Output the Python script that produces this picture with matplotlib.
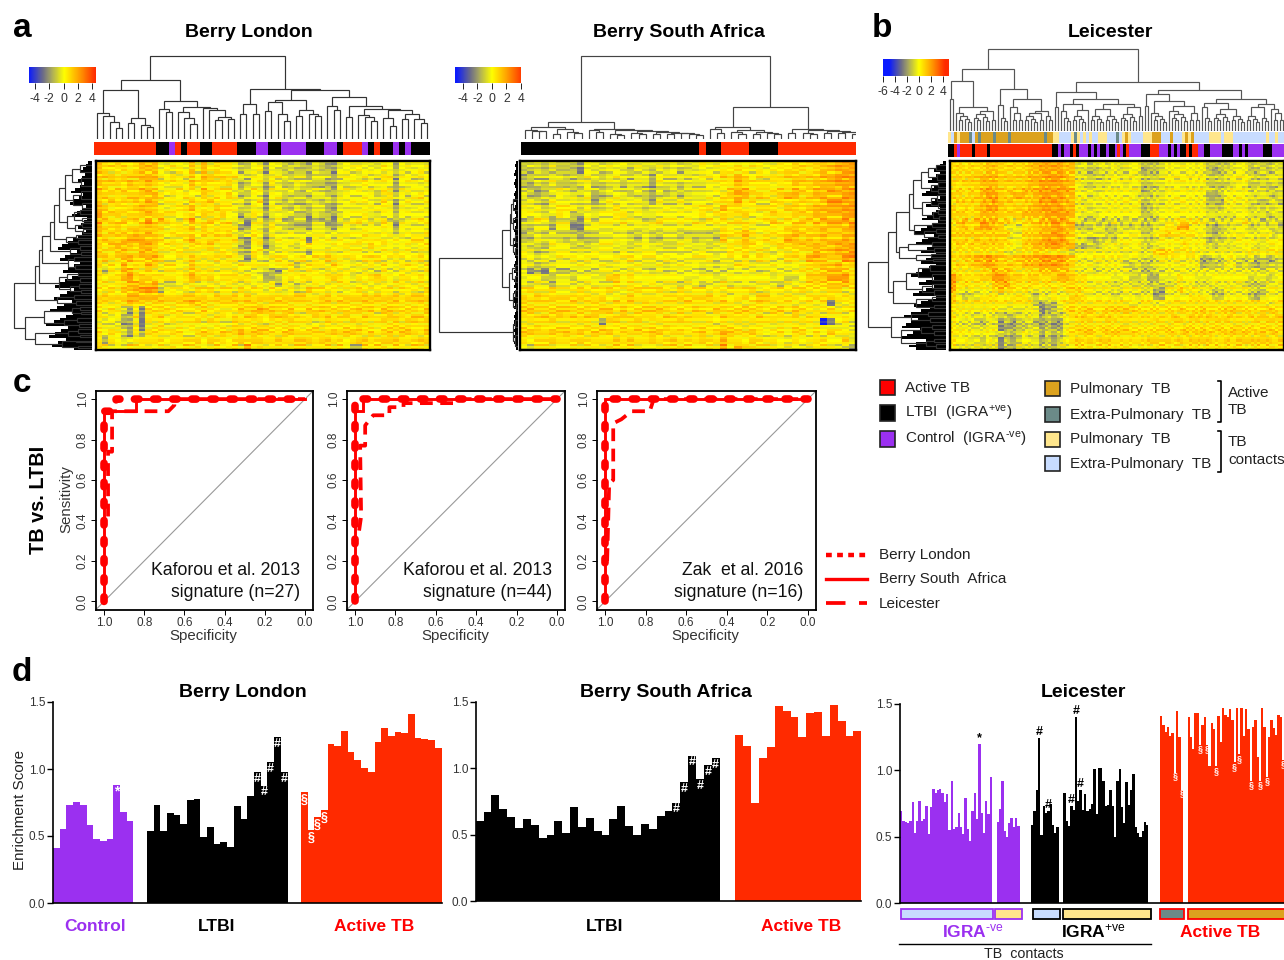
import numpy as np
import matplotlib
matplotlib.use('Agg')
import matplotlib.pyplot as plt
from matplotlib.colors import LinearSegmentedColormap, ListedColormap, Normalize
from matplotlib.patches import Rectangle

plt.rcParams['font.family'] = ['Liberation Sans', 'DejaVu Sans']
plt.rcParams['mathtext.fontset'] = 'custom'
plt.rcParams['mathtext.rm'] = 'Liberation Sans'
plt.rcParams['mathtext.default'] = 'regular'

W, H = 1284, 960
RED = '#ff2a00'
PURPLE = '#9b30f0'
LRED = '#ff0000'
GOLD = '#dca21e'
TEAL = '#6b8a88'
PALE = '#ffe68c'
SKY = '#c8dcff'

#heat levels, one digit per cell
levels = [-4.6, -2.6, -1.7, -1.0, -0.45, 0.0, 0.55, 1.0, 1.55, 2.1]

london_heat = [
"8777767888 5565585857 6653355255 3343243224 5555446525 5555",
"8766767888 5656585867 6653456254 3433343325 5565556535 5565",
"7776777888 5565575876 7664355355 4344244324 5545446625 5455",
"8777687787 6566586766 6752355264 3354333224 4556555525 5545",
"8767777887 5556575866 6653465255 4443443325 5455546525 5555",
"7776777788 6565655766 5753355255 3433344334 5555536635 4565",
"8677678788 5556585776 6654356154 3333343425 5546546525 5555",
"8766767887 5566686667 6654355255 3343344224 4555556525 5455",
"9777677787 7665675766 7552465245 4433243324 5556445535 5555",
"9767767797 8655695676 6743155255 3233143214 5565546425 4565",
"8777677787 7566685766 6662255365 3333244324 5455556525 5555",
"8677778787 6566675767 6753465254 4544455445 5556555535 5556",
"7777888988 6565686676 6663166245 5545165545 5565656555 5665",
"7678787887 6656576675 6652255135 5446655556 6555765555 5566",
"7767877887 6566665566 6563366345 5555255655 5665556565 6565",
"6766886788 6555576566 5654155456 5556565765 5656665555 5565",
"7565867687 5665585655 6656665556 6635666576 5455656556 6656",
"7366897676 5666686665 6665554332 5665665656 6546546556 5656",
"6566896776 6665687675 6666645223 5656655676 5465676546 6565",
"6666788889 4445565565 5655556562 6535565566 6565556566 6566",
"6665789999 3455656665 6656665366 4545766655 5566565656 5656",
"7777788888 7777777767 7776767776 7777667766 7777777776 7777",
"7666787777 7777788776 7777777677 7766767767 7777767776 7677",
"6565326166 7656665756 5567778777 6766767767 6677767776 6767",
"6555326166 7566556656 6566777677 7765676766 7667657766 6777",
"6455225166 6566667576 5576676576 7766656766 6766667776 7767",
"6555326156 7556565656 6577677766 6765675666 7676656777 7667",
"6565326266 6566556766 7678777666 7777666777 7766766767 7767",
"6265445666 6566667576 6567677667 6677767766 5677667776 6677",
"8656576766 6676767667 6775977676 7677677767 6337777677 6766",
]

africa_heat = [
"3443533325 4455545445 4544465565 6566556677 7788999",
"3343433315 4455435435 4534455566 7656566777 6788999",
"2333443335 4345434425 4444455576 8756566777 7788999",
"3243533345 3344344425 4434445566 8766656687 7888999",
"3323454335 3344344324 3434445557 8866667687 7889899",
"4323454445 2345434324 3434445567 9877667887 7888899",
"4443555535 2355554425 4454555577 8665567676 7789999",
"5553566545 3456445345 5455566586 7566675777 7889999",
"5554465335 4556645445 5555565676 6755676677 7888899",
"3365255215 4555654456 5555656566 6655676677 7888899",
"3355255115 5555555455 5555555565 5655565777 7788889",
"2343433323 3444433433 4433333376 6865666787 7787788",
"3343543332 3554533533 3344343375 6865666887 7778888",
"4343555434 4555444544 4455444456 5766557777 8887899",
"5534555555 5554555554 5545455456 6657645666 7888999",
"4534454555 4555565555 5454555445 5656554666 8877799",
"5434455555 5545555445 4555545354 6645555555 7787877",
"5131433444 4555565545 4545544445 4554555566 7788887",
"4553344355 4477565555 5554455445 5555545335 7779996",
"5454355455 5557566565 5545534564 5555553556 7778887",
"6666655666 6566576666 6566666566 5665656666 6666656",
"7676777676 6755676666 6676777665 6757766665 6767666",
"7766766766 7767676766 6667666676 6577666656 6561656",
"7777677767 6776766777 7666766776 6767667676 6566466",
"6767776777 7676767666 7676665676 7667576575 6656655",
"6666766666 6277667676 6676666566 6666666666 6601565",
"7676677667 6766767676 7666676677 6566556576 5655554",
"7777767776 7676676677 6766676697 6676556566 5657564",
"6566766676 6667676676 6766676686 6576565465 5665574",
"6466666666 7677776666 6777666696 9876666565 5766543",
]

leicester_heat = [
"7767778877 7778899998 8453454545 5533345555 5553333455 343344",
"7777778877 7778899998 8443344544 5523345555 5553234455 334344",
"6767788877 7778889998 7443334544 5433345555 5553334555 433444",
"7677788877 7778899998 8543444554 5533445555 5553333455 334343",
"6767789877 7788899999 8544445555 5523345555 5554334555 344334",
"7767789977 8887899998 8554455555 5433445555 5552235555 444434",
"6777788987 7777899998 8544555555 5533445555 5553325555 433343",
"7676789977 7778899998 8554445555 5523445555 5553335545 343444",
"7776788877 7788889999 8544455555 5533455555 5554444455 444344",
"6786898877 5667788998 8433433533 4433355566 6654344456 443343",
"6786899875 5467788998 8333443344 3433456699 5553234455 344443",
"7777777777 4477788998 7544443345 5533567666 6553234555 445534",
"6776777776 5477889998 7443234355 5533455556 5552334455 544555",
"6767777776 5577889998 8323345545 5543455556 5554344455 544556",
"6666666665 4666776666 3555555555 5545787666 6555555555 665666",
"6677889877 7788899998 7545555554 4433455555 5522335533 423233",
"6767889877 7788899998 7555455553 3433455555 5523335534 323334",
"7666677988 7667788888 7555455555 4433445555 5555555555 554555",
"9766677998 7767766788 7665555445 3342244465 5444555555 344345",
"9676665889 7667767667 7665555445 4443434465 5444555554 333555",
"9545555686 6665455656 7765555445 5544225575 6545335555 433555",
"7534466655 6664354655 7765555445 5455225555 6665335555 324555",
"7666666666 6666323356 7666666666 5566556666 6666666666 666566",
"6555555644 4445412246 7677667777 7666666676 6676667776 666766",
"6554445433 3445423335 6777677667 6666666766 7777667766 767677",
"6545335423 2344323225 6677667766 6666766776 7767777666 677777",
"6554445512 2334423225 6777677677 6666677667 7676776776 767767",
"6555545433 2454424235 6677667776 7666666767 6777667777 677676",
"6554435413 2354423235 6767677666 6667767676 7777667677 777767",
"6555555523 3555534355 6777677777 6666777667 7767777776 677777",
]

#fine horizontal streaks seen inside each block, per thin row, and which streak set each column follows
streak_offsets = [-1.3, -0.8, -0.5, -0.25, -0.1, 0.0, 0.1, 0.25, 0.5, 0.8]
streak_a = "463527184635092746153827465019374628153746285917364052847361925046371829467305182946357120"
streak_b = "725146390826471539260748153962047518396241705839162704853917260483951726049381726350482917"
streak_c = "318260574926138504792613850479261385047926813570492681357042968135704296813570429681357042"
london_pick = "012021102012201120210012102201021120012102210120102112"
africa_pick = "02112001210221012002112100121020211201021012210"
leicester_pick = "0120210211020121001220110212002101220112001210220110210201221002101202110201122010210210"

#column annotation runs, (colour code, number of samples)
london_groups = [('r',10),('k',2),('p',1),('r',1),('k',1),('r',2),('k',2),('r',4),('k',3),('p',2),('k',2),('p',4),
                 ('k',3),('p',2),('k',1),('r',3),('p',1),('k',1),('r',1),('k',2),('p',1),('k',1),('p',1),('k',3)]
africa_groups = [('k',25),('r',1),('k',2),('r',4),('k',4),('r',11)]
leicester_groups = [('k',2),('r',1),('p',1),('r',4),('k',1),('r',4),('k',1),('r',21),('k',2),('p',1),('k',1),('p',2),('k',1),
                    ('r',1),('k',1),('p',3),('k',1),('p',1),('k',1),('p',1),('k',2),('p',1),('k',2),('p',1),('r',1),('p',1),
                    ('k',1),('r',1),('p',4),('k',3),('r',3),('p',3),('k',1),('p',1),('k',1),('p',1),('k',2),('r',1),('k',1),
                    ('r',2),('p',2),('k',2),('p',4),('k',4),('p',2),('k',1),('p',1),('k',1),('p',5),('k',3),('p',4)]
leicester_types = [('y',1),('b',1),('g',1),('y',1),('g',3),('t',1),('b',1),('g',1),('t',1),('g',4),('t',1),('g',4),('t',1),
                   ('g',11),('t',1),('g',2),('y',2),('b',4),('y',1),('t',1),('y',1),('b',1),('y',1),('b',1),('y',1),('b',2),
                   ('y',3),('b',3),('t',1),('b',1),('y',1),('g',1),('y',1),('b',4),('y',3),('g',3),('b',3),('g',1),('b',3),
                   ('y',1),('g',1),('y',1),('g',1),('b',5),('y',4),('b',1),('y',3),('b',11),('y',1),('b',2),('y',1),('b',2)]

#dendrograms: (height, left, right), a 0 is the next sample in order, row trees give the row position in %
london_tree = (83,
    (59,
        (49, (26,0,(23,0,(17,0,(11,0,0)))), (21,(16,0,0),(14,0,(12,0,0)))),
        (38, (30,0,(27,0,0)),
             (32, (27,0,(21,0,(15,0,0))), (31,0,(29,0,(22,(19,0,0),(20,0,0))))))),
    (50,
        (35,(25,0,0),(25,0,0)),
        (49,
            (39,(37,(28,0,0),(25,0,(18,0,0))),(29,(23,0,0),(25,0,(23,0,0)))),
            (42,(33,0,(29,0,0)),
                (33,(22,0,0),(30,(24,0,(22,0,(18,0,0))),
                    (29,(21,0,(13,0,0)),(25,(20,0,0),(20,0,(16,0,0))))))))))

africa_tree = (83,
    (17,
        (12,(9,0,(8,0,(8,0,0))),(10,(5,0,0),(7,0,(6,0,0)))),
        (10,(9,0,(7,0,0)),
            (9,(5,0,(4,0,0)),(8,(6,0,(5,0,0)),(7,(5,0,0),(6,(5,0,0),(6,0,(5,0,(4,0,0)))))))) ),
    (32,
        (12,(10,0,(6,0,0)),(9,(7,0,(5,0,0)),(7,(5,0,0),(6,0,(5,0,0))))),
        (10,(6,0,0),(9,(6,0,(5,0,0)),(8,(6,0,0),(7,(6,0,0),(5,0,(5,0,(4,0,0)))))))))

a = (11,0,0)
b = (13,0,(10,0,0))
c = (15,(11,0,0),(12,0,(9,0,0)))
d = (17,(13,0,(11,0,0)),(14,0,(10,0,0)))
leicester_tree = (82,
    (62,
        (50,(32,0,0),(24,(18,0,c),(20,d,a))),
        (42,(26,0,b),(32,(24,0,(18,a,a)),(20,(18,c,a),(15,0,a))))),
    (49,
        (39,(24,0,0),(32,(27,(20,0,b),(21,c,0)),(27,(22,c,c),(24,d,(15,0,0))))),
        (41,
            (37,(25,0,0),(30,(18,0,c),(25,(20,0,d),(18,a,a)))),
            (32,(28,(24,0,b),(22,d,c)),(27,(24,c,b),(22,0,(18,a,a)))))))

london_rows = (78,
    (57,
        (53,
            (50,
                (42,
                    (38,
                        (33,(27,(20,(12,2,6),(11,9,13)),(19,(11,16,20),(10,22,25))),
                            (25,(18,(12,26,28),(10,30,32)),(17,(10,33,35),(9,36,38)))),
                        (26,(16,39,41),(14,42,44))),
                    (22,(12,45,47),(11,48,50))),
                (24,(18,51,53),(17,55,57))),
            (33,(25,(14,59,61),(12,62,64)),(22,(13,65,67),(11,68,70)))),
        (35,(18,71,73),(16,74,76))),
    (67,
        (48,(20,(12,77,79),(11,80,81)),(28,(15,83,85),(13,86,88))),
        (57,(24,(14,89,91),(12,92,93)),(30,(16,95,96),(14,98,99)))))

africa_rows = (79,
    (16,
        (8,(7,(5,20,26),(5,30,36)),(5,(3,39,43),(3,46,50))),
        (9,(6,(3,55,58),(3,61,64)),(5,(3,68,72),(2,75,79)))),
    (5,(3,84,88),(3,92,98)))

leicester_rows = (78,
    (58,
        (50,
            (37,
                (33,(25,(18,(10,2,5),(9,7,10)),(15,(8,11,14),(8,15,17))),
                    (24,(15,(9,18,21),(8,22,25)),(13,(8,26,28),(7,29,31)))),
                (32,(14,33,35),(22,(10,36,38),(8,39,41)))),
            (47,(38,(14,43,45),(12,46,48)),(30,(15,49,51),(13,52,53)))),
        (53,
            (40,(28,(16,55,58),(14,60,63)),(24,(14,65,67),(12,68,71))),
            (30,(14,72,74),(12,76,78)))),
    (55,
        (35,(18,80,82),(16,83,85)),
        (45,(25,(14,87,89),(12,90,92)),(20,(12,94,96),(10,97,99)))))

#how far the black leaf mass reaches from the heatmap, top to bottom
london_mass = [4,6,9,12,7,10,14,8,12,17,21,9,13,18,22,6,10,15,20,5,8,11,14,6,10,14,19,24,30,34,15,21,27,32,12,18,24,29,14,20,
               27,33,37,18,25,32,38,20,28,35,42,19,26,32,38,46,24,31,37,43,26,34,40,18]
africa_mass = [2,3,2,3,4,2,3,4,3,2,3,4,3,4,2,3,4,3,2,3,4,2,3,4,3,2,4,3,4,2,3,4,3,2,3,4,3,4,2,3,
               4,3,4,2,4,3,4,4,3,4,2,3,4,3,4,4,3,4,3,4,3,4,3,2]
leicester_mass = [3,6,9,12,6,10,14,18,8,12,16,20,24,6,11,15,20,6,10,14,19,24,8,13,19,25,32,12,18,24,30,13,19,25,10,15,20,25,10,17,
                  24,30,35,12,20,27,12,20,27,33,10,18,25,32,16,25,35,42,28,35,40,44,26,33,39,44,20,30,37,30]

#ROC curves as (specificity, sensitivity)
roc_titles = [('Kaforou et al. 2013', 'signature (n=27)'),
              ('Kaforou et al. 2013', 'signature (n=44)'),
              ('Zak  et al. 2016', 'signature (n=16)')]
roc_ticks = [1.0, 0.8, 0.6, 0.4, 0.2, 0.0]
roc_london = [
    ([1,1,.97,.97,.94,.94,.94,.85,0], [0,.94,.94,.94,.97,1,1,1,1]),
    ([1,1,.98,.98,0], [0,.97,.97,1,1]),
    ([1,1,.97,.97,0], [0,.97,.97,1,1])]
roc_africa = [
    ([1,1,.84,.84,0], [0,.94,.94,1,1]),
    ([1,1,.96,.96,0], [0,.94,.94,1,1]),
    ([1,1,0], [0,1,1])]
roc_leicester = [
    ([.98,.98,.96,.96,.68,.65,.65,0], [.42,.74,.74,.94,.94,.97,1,1]),
    ([.98,.97,.975,.95,.95,.91,.83,.83,.76,.76,.5,.48,0], [.35,.42,.77,.77,.87,.92,.92,.96,.96,.98,.98,1,1]),
    ([.99,.98,.96,.96,.92,.87,.78,.76,0], [.2,.58,.6,.88,.9,.94,.94,1,1])]

#enrichment scores
london_control = [.41,.55,.73,.755,.735,.585,.48,.46,.475,.88,.68,.615]
london_ltbi = [.54,.735,.535,.675,.655,.59,.765,.775,.495,.57,.44,.455,.42,.725,.63,.795,.975,.875,1.05,1.24,.975]
london_active = [.83,.545,.64,.695,1.185,1.17,1.285,1.13,1.07,1.01,.975,1.205,1.305,1.245,1.275,1.265,1.41,1.235,1.225,1.215,1.155]
africa_ltbi = [.60,.67,.80,.695,.63,.55,.62,.575,.475,.50,.60,.51,.71,.555,.625,.525,.50,.615,.715,.565,.50,.58,.545,.64,.68,.74,.895,1.095,.92,1.025,1.075]
africa_active = [1.25,1.17,.74,1.08,1.16,1.47,1.43,1.385,1.235,1.415,1.425,1.24,1.48,1.355,1.245,1.285]
leic_control1 = [.69,.62,.61,.60,.62,.76,.53,.62,.77,.62,.63,.73,.52,.72,.86,.83,.85,.86,.83,.76,.82,.55,.92,.56,.57,.68,.57,.52,.79,.56,.47,.69,.83,.63,1.20,.68,.53,.77,.67,.95]
leic_control2 = [.61,.71,.92,.54,.50,.60,.64,.57,.64,.58]
leic_ltbi1 = [.59,.69,.85,1.24,.51,.73,.68,.69,.75,.59,.53,.57]
leic_ltbi2 = [.83,.62,.58,.73,.70,1.40,.77,.85,.70,.82,.69,.71,.75,1.01,.67,1.02,1.02,.92,.73,.74,.85,.73,.50,.92,1.01,.72,.60,.91,.74,.85,.97,.57,.53,.50,.54,.61,.59]
leic_active1 = [1.41,1.34,1.29,1.33,1.26,1.28,.98,1.45,1.25,.85]
leic_active2 = [1.40,1.25,1.16,1.43,1.43,1.19,1.34,1.40,1.19,1.03,1.36,1.31,1.03,1.41,1.21,1.47,1.42,1.40,1.46,1.38,1.06,1.47,1.12,1.47,1.26,
                1.46,1.31,.92,1.33,1.38,1.10,.92,1.47,1.33,.95,1.25,1.38,1.32,1.27,1.42,1.40,1.08]

heat_cmap = LinearSegmentedColormap.from_list('heat', [
    (0.0, '#0a1aff'), (2.0/9.6, '#6c6c88'), (3.2/9.6, '#a8a860'), (5.0/9.6, '#ffff00'),
    (7.2/9.6, '#ff9a00'), (9.4/9.6, '#ff2a00'), (1.0, '#ff2a00')])
heat_norm = Normalize(-5, 4.6)
group_colours = {'r': RED, 'k': 'black', 'p': PURPLE, 'y': PALE, 'b': SKY, 'g': GOLD, 't': TEAL}

fig = plt.figure(figsize=(W/100, H/100), dpi=100, facecolor='white')


def add_ax(x0, y0, x1, y1, **kw):
    return fig.add_axes([x0/W, 1-y1/H, (x1-x0)/W, (y1-y0)/H], **kw)


def draw_tree(ax, node, counter, horizontal, colour):
    if not isinstance(node, tuple):
        if counter is None:
            return node, 0
        counter[0] += 1
        return counter[0]-0.5, 0
    p1, h1 = draw_tree(ax, node[1], counter, horizontal, colour)
    p2, h2 = draw_tree(ax, node[2], counter, horizontal, colour)
    xs, ys = [p1, p1, p2, p2], [h1, node[0], node[0], h2]
    if horizontal:
        xs, ys = ys, xs
    ax.plot(xs, ys, color=colour, lw=0.85, solid_capstyle='butt', solid_joinstyle='miter')
    return (p1+p2)/2, node[0]


def expand(runs):
    return [code for code, n in runs for _ in range(n)]


def strip_ax(x0, y0, x1, y1, runs):
    ax = add_ax(x0, y0, x1, y1)
    codes = expand(runs)
    names = list(group_colours)
    ax.imshow([[names.index(k) for k in codes]], aspect='auto', interpolation='nearest',
              cmap=ListedColormap([group_colours[k] for k in names]), vmin=0, vmax=len(names)-1)
    ax.axis('off')


def heat_ax(x0, y0, x1, y1, rows, pick, col_rep):
    ax = add_ax(x0, y0, x1, y1)
    coarse = [row.replace(' ', '') for row in rows]
    streaks = [streak_a, streak_b, streak_c]
    grid = []
    for r in range(len(coarse)*3):
        line = []
        for ci in range(len(coarse[0])*col_rep):
            base = levels[int(coarse[r//3][ci//col_rep])]
            s = streaks[int(pick[ci % len(pick)])]
            val = base + streak_offsets[int(s[r % len(s)])]
            #only cells read as blue go down to blue
            line.append(val if base < -4 else max(val, -2.9))
        grid.append(line)
    ax.imshow(grid, aspect='auto', interpolation='nearest', cmap=heat_cmap, norm=heat_norm)
    ax.set_xticks([])
    ax.set_yticks([])
    for s in ax.spines.values():
        s.set_linewidth(1.7)
    return ax


def key_ax(x0, y0, x1, y1, lo, hi, ticks):
    ax = add_ax(x0, y0, x1, y1)
    ax.imshow([np.linspace(lo, hi, 120)], aspect='auto', extent=(lo, hi, 0, 1), cmap=heat_cmap, norm=heat_norm)
    ax.set_yticks([])
    ax.set_xticks(ticks)
    ax.set_xticklabels([str(t) for t in ticks], fontsize=8.8, color='#333333')
    ax.tick_params(axis='x', length=4.5, width=0.6, pad=2.5)
    for s in ax.spines.values():
        s.set_visible(False)


def cluster_panel(x0, x1, bar_x0, base, n, heat, pick, col_rep, tree, rows, mass, row_base, key, colour='#333333'):
    heat_ax(x0, 161, x1, 350, heat, pick, col_rep)
    top = add_ax(bar_x0, base-90, x1, base)
    draw_tree(top, tree, [0], False, colour)
    top.set_xlim(0, n)
    top.set_ylim(0, 90)
    top.axis('off')
    side = add_ax(row_base-84, 161, row_base, 350)
    ys = np.linspace(0, 100, len(mass)+1)
    side.fill_betweenx(ys, 0, mass+[mass[-1]], step='post', color='black', lw=0)
    draw_tree(side, rows, None, True, '#333333')
    side.set_xlim(84, 0)
    side.set_ylim(100, 0)
    side.axis('off')
    key_ax(*key)


cluster_panel(96, 430, 94, 139, 54, london_heat, london_pick, 1, london_tree, london_rows, london_mass, 92,
              (28.5, 67, 95, 83, -4.9, 4.4, [-4, -2, 0, 2, 4]))
strip_ax(94, 142, 430, 155, london_groups)
cluster_panel(520, 856, 521, 139, 47, africa_heat, africa_pick, 1, africa_tree, africa_rows, africa_mass, 518,
              (455, 67, 521, 83, -5.1, 4.0, [-4, -2, 0, 2, 4]), colour='#444444')
strip_ax(521, 142, 856, 155, africa_groups)
cluster_panel(950, 1284, 948, 131, 112, leicester_heat, leicester_pick, 2, leicester_tree, leicester_rows, leicester_mass, 946,
              (883, 59, 949, 76, -6.0, 5.0, [-6, -4, -2, 0, 2, 4]), colour='#555555')
strip_ax(948, 132, 1284, 143, leicester_types)
strip_ax(948, 144, 1284, 157, leicester_groups)

#panel c
roc_boxes = [(96, 313), (347, 565), (597, 816)]
for i, (rx0, rx1) in enumerate(roc_boxes):
    ax = add_ax(rx0, 391, rx1, 609.5)
    ax.plot([1.04, -0.04], [-0.04, 1.04], color='#999999', lw=0.8)
    ax.plot(*roc_leicester[i], color=LRED, lw=2.7, ls=(0, (3.4, 2.0)), dash_capstyle='butt')
    ax.plot(*roc_africa[i], color=LRED, lw=2.1, solid_joinstyle='miter')
    ax.plot(*roc_london[i], color=LRED, lw=5.5, ls=(0, (0.6, 1.9)), dash_capstyle='round')
    ax.set_xlim(1.04, -0.04)
    ax.set_ylim(-0.04, 1.04)
    ax.set_xticks(roc_ticks)
    ax.set_yticks(roc_ticks)
    ax.set_xticklabels(['%.1f' % t for t in roc_ticks], fontsize=8.5, color='#333333')
    ax.set_yticklabels(['%.1f' % t for t in roc_ticks], fontsize=8.5, rotation=90, va='center', color='#333333')
    ax.tick_params(length=3.6, width=0.7, pad=1.5)
    for s in ax.spines.values():
        s.set_linewidth(1.3)

#panel d
def bar_ax(x0, x1, y_top, y_base, unit, groups, colours, marks):
    ax = add_ax(x0, y_top, x1, y_base)
    for start, vals, col in zip(groups[0], groups[1], colours):
        ax.stairs(vals, start + np.arange(len(vals)+1), fill=True, color=col, lw=0)
    for gi, idx, sym, col, off, size in marks:
        v = groups[1][gi][idx]
        ax.text(groups[0][gi]+idx+0.5, v+off, sym, color=col, ha='center', va='center', fontsize=size, fontweight='bold')
    ax.set_xlim(0, (x1-x0)/unit)
    ax.set_ylim(0, 1.5)
    ax.set_xticks([])
    ax.set_yticks([0, 0.5, 1.0, 1.5])
    ax.set_yticklabels(['0.0', '0.5', '1.0', '1.5'], fontsize=8.5, color='#333333')
    ax.tick_params(length=4, width=1, pad=1.5)
    ax.spines['top'].set_visible(False)
    ax.spines['right'].set_visible(False)
    ax.spines['left'].set_linewidth(1.2)
    ax.spines['bottom'].set_linewidth(1.2)
    ax.patch.set_alpha(0)


W_ = 'white'
bar_ax(53, 442, 702, 903, 6.7, ([0, 14, 37], [london_control, london_ltbi, london_active]), [PURPLE, 'black', RED],
       [(0, 9, '*', W_, -.05, 10)] + [(1, i, '#', W_, -.05, 9) for i in (16, 17, 18, 19, 20)] +
       [(2, i, '§', W_, -.06, 9) for i in (0, 1, 2, 3)])
bar_ax(475.7, 861, 702, 901, 7.87, ([0, 33], [africa_ltbi, africa_active]), ['black', RED],
       [(0, i, '#', W_, -.05, 9) for i in (25, 26, 27, 28, 29, 30)])
bar_ax(900, 1284, 704, 903, 2.3, ([0, 42, 57, 71, 113, 125], [leic_control1, leic_control2, leic_ltbi1, leic_ltbi2, leic_active1, leic_active2]),
       [PURPLE, PURPLE, 'black', 'black', RED, RED],
       [(0, 34, '*', 'black', .04, 9), (2, 3, '#', 'black', .05, 9), (2, 7, '#', 'black', .05, 9),
        (3, 3, '#', 'black', .05, 9), (3, 5, '#', 'black', .05, 9), (3, 7, '#', 'black', .05, 9)] +
       [(4, 6, '§', W_, -.02, 6.5), (4, 9, '§', W_, -.02, 6.5)] +
       [(5, i, '§', W_, -.03, 6.5) for i in (5, 8, 12, 20, 22, 27, 31, 34, 41)])

#everything else sits on a pixel overlay
over = add_ax(0, 0, W, H)
over.set_xlim(0, W)
over.set_ylim(H, 0)
over.axis('off')
over.patch.set_alpha(0)


def put(x, y, s, size=10, weight='normal', colour='black', ha='center', rot=0, va='center'):
    over.text(x, y, s, fontsize=size, fontweight=weight, color=colour, ha=ha, va=va, rotation=rot)


for x, y, s in [(12.5, 37, 'a'), (872, 37, 'b'), (12.5, 392, 'c'), (12, 681, 'd')]:
    put(x, y, s, size=24, weight='bold', ha='left', va='baseline')
for x, y, s in [(249, 37, 'Berry London'), (679, 37, 'Berry South Africa'), (1110, 37, 'Leicester'),
                (243, 697, 'Berry London'), (666, 697, 'Berry South Africa'), (1083, 697, 'Leicester')]:
    put(x, y, s, size=14, weight='bold', va='baseline')

for (rx0, rx1), (l1, l2) in zip(roc_boxes, roc_titles):
    put(rx1-13, 575, l1, size=12.7, ha='right', colour='#111111', va='baseline')
    put(rx1-13, 597, l2, size=12.7, ha='right', colour='#111111', va='baseline')
    put((rx0+rx1)/2-1, 640, 'Specificity', size=10.8, colour='#333333', va='baseline')
put(66, 499, 'Sensitivity', size=10.8, rot=90, colour='#333333')
put(39, 500, 'TB vs. LTBI', size=14.3, weight='bold', rot=90)
put(20, 810, 'Enrichment Score', size=10.9, rot=90, colour='#222222')

for x, y, s, col in [(95, 931, 'Control', PURPLE), (217, 931, 'LTBI', 'black'), (374, 931, 'Active TB', LRED),
                     (605, 931, 'LTBI', 'black'), (801, 931, 'Active TB', LRED),
                     (973, 937, r'IGRA$^{\text{-ve}}$', PURPLE), (1093, 937, r'IGRA$^{\text{+ve}}$', 'black'), (1220, 937, 'Active TB', LRED)]:
    put(x, y, s, size=12.5, weight='bold', colour=col, va='baseline')
put(1024, 958, 'TB  contacts', size=10.3, colour='#222222', va='baseline')
over.plot([899, 1151], [944, 944], color='black', lw=1)

for x0, x1, face, edge in [(901, 992.5, SKY, PURPLE), (995, 1022, PALE, PURPLE), (1033, 1060, SKY, 'black'),
                           (1063, 1151, PALE, 'black'), (1160, 1184, TEAL, LRED), (1188, 1290, GOLD, LRED)]:
    over.add_patch(Rectangle((x0, 909), x1-x0, 10, facecolor=face, edgecolor=edge, lw=1.3, clip_on=True))

#legend of the clustering colours
for y, s, face in [(387.5, 'Active TB', LRED), (413, r'LTBI  (IGRA$^{\text{+ve}}$)', 'black'), (439, r'Control  (IGRA$^{\text{-ve}}$)', PURPLE)]:
    over.add_patch(Rectangle((879.5, y-8), 15.5, 15.5, facecolor=face, edgecolor='#222222', lw=1.2))
    put(905, y+4.5, s, size=11, ha='left', colour='#222222', va='baseline')
for y, s, face in [(388, 'Pulmonary  TB', GOLD), (414, 'Extra-Pulmonary  TB', TEAL),
                   (439, 'Pulmonary  TB', PALE), (463.5, 'Extra-Pulmonary  TB', SKY)]:
    over.add_patch(Rectangle((1044.5, y-7.5), 15, 15, facecolor=face, edgecolor='#222222', lw=1.2))
    put(1070, y+4.5, s, size=11, ha='left', colour='#222222', va='baseline')
for y0, y1 in [(381, 422), (431, 472)]:
    over.plot([1218, 1221, 1221, 1218], [y0, y0, y1, y1], color='black', lw=1.2)
for y, s in [(397, 'Active'), (414, 'TB'), (446, 'TB'), (464, 'contacts')]:
    put(1228, y, s, size=11, ha='left', colour='#222222', va='baseline')

for y, s, style in [(555, 'Berry London', dict(lw=3.2, ls=(0, (1.3, 1.2)))),
                    (579, 'Berry South  Africa', dict(lw=2.4)),
                    (603, 'Leicester', dict(lw=2.7, ls=(0, (5.2, 3.6))))]:
    over.plot([826, 867], [y, y], color=LRED, dash_capstyle='butt', **style)
    put(879, y+4.5, s, size=11, ha='left', colour='#222222', va='baseline')

fig.savefig('out.png', dpi=100)
